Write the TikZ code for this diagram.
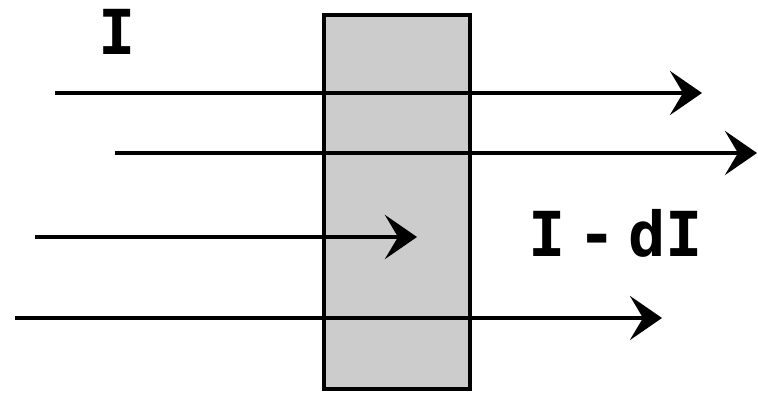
\documentclass[tikz,border=0pt]{standalone}
\usepackage{fontspec}
\setmainfont{DejaVu Sans Mono}
\usetikzlibrary{arrows.meta}
\begin{document}
\begin{tikzpicture}[x=1pt,y=1pt,
  ray/.style={line width=4.5pt,-{Stealth[length=32pt,width=44pt,inset=13pt]}},
  slab/.style={draw=black,line width=4.5pt,fill=black!20},
  lbl/.style={font=\fontsize{62}{64}\selectfont\bfseries,inner sep=0pt,anchor=base}]
\useasboundingbox (0,0) rectangle (758,395);
\path[slab] (324,380) rectangle (470,6);
\coordinate (s1) at (55,302);
\coordinate (e1) at (702,302);
\coordinate (s2) at (115,242);
\coordinate (e2) at (757,242);
\coordinate (s3) at (35,158);
\coordinate (e3) at (417,158);
\coordinate (s4) at (15,77);
\coordinate (e4) at (662,77);
\draw[ray] (s1) -- (e1);
\draw[ray] (s2) -- (e2);
\draw[ray] (s3) -- (e3);
\draw[ray] (s4) -- (e4);
\node[lbl] (tI) at (117,340) {I};
\node[lbl] (tdI) at (616,138) {I\hspace{0.2em}-\hspace{0.2em}dI};
\end{tikzpicture}
\end{document}
